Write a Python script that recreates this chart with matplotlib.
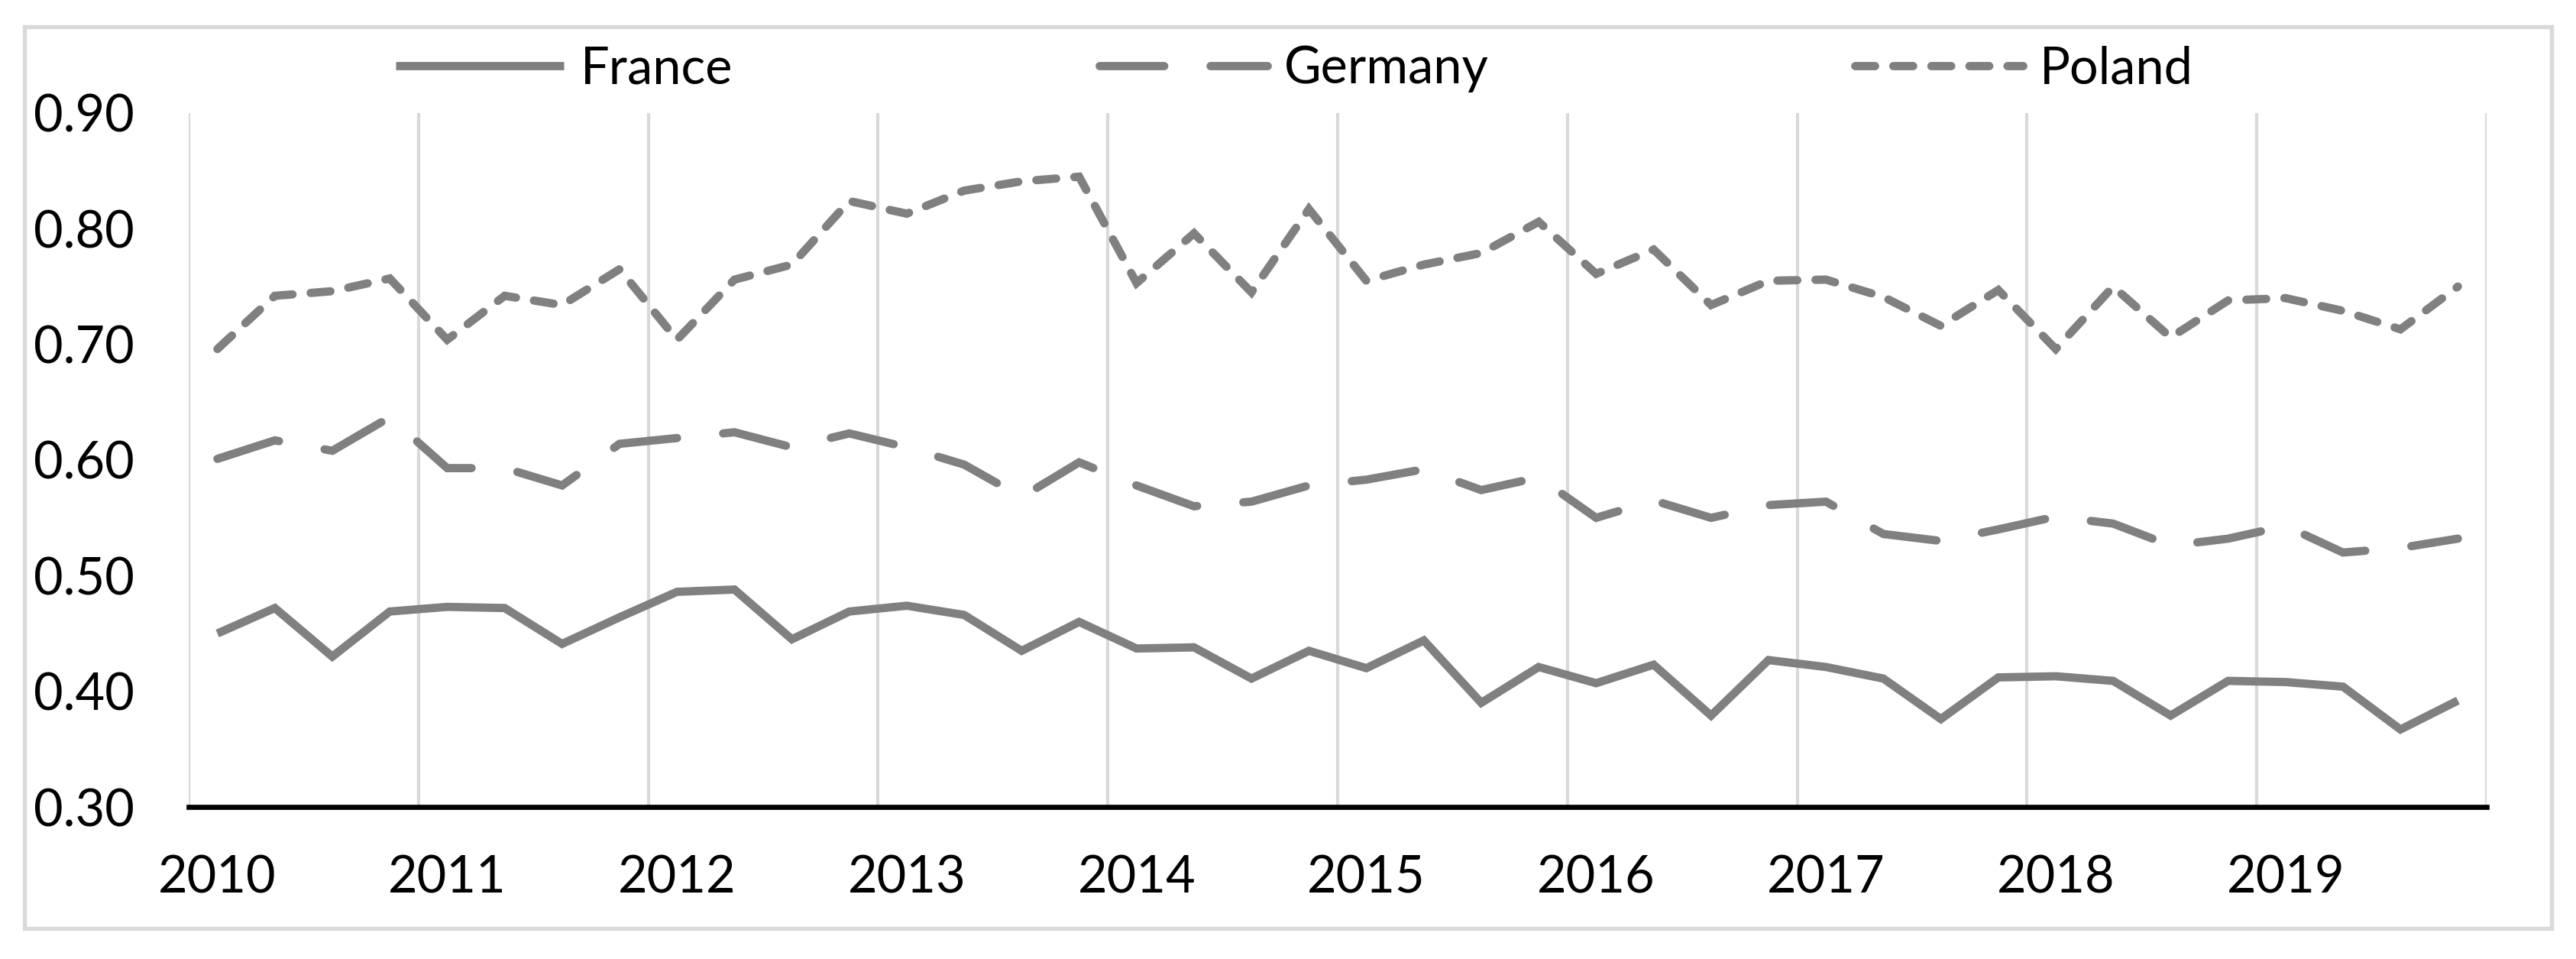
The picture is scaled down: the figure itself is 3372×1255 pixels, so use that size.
import matplotlib
matplotlib.use("Agg")
import matplotlib.pyplot as plt
from matplotlib.patches import Rectangle
import numpy as np

plt.rcParams['font.family'] = ['Lato', 'DejaVu Sans']

years = [str(y) for y in range(2010, 2020)]
quarters_per_year = 4

france = [0.450, 0.472, 0.430, 0.469, 0.473, 0.472, 0.441, 0.464, 0.486, 0.488, 0.445, 0.469, 0.474,
          0.466, 0.435, 0.460, 0.437, 0.438, 0.411, 0.435, 0.420, 0.444, 0.390, 0.421, 0.407, 0.423, 0.379,
          0.427, 0.421, 0.411, 0.376, 0.412, 0.413, 0.409, 0.379, 0.409, 0.408, 0.404, 0.367, 0.392]
germany = [0.601, 0.617, 0.608, 0.637, 0.593, 0.593, 0.578, 0.614, 0.619, 0.624, 0.611, 0.623, 0.611,
           0.596, 0.568, 0.598, 0.578, 0.560, 0.564, 0.578, 0.583, 0.592, 0.574, 0.585, 0.550, 0.565, 0.550,
           0.561, 0.564, 0.536, 0.530, 0.540, 0.551, 0.545, 0.526, 0.532, 0.543, 0.520, 0.524, 0.532]
poland = [0.696, 0.742, 0.746, 0.757, 0.704, 0.742, 0.734, 0.765, 0.704, 0.756, 0.769, 0.824, 0.813,
          0.833, 0.841, 0.845, 0.753, 0.796, 0.745, 0.817, 0.755, 0.769, 0.779, 0.806, 0.761, 0.782, 0.734,
          0.755, 0.756, 0.741, 0.716, 0.747, 0.696, 0.750, 0.706, 0.738, 0.740, 0.729, 0.713, 0.750]
series_names = ['France', 'Germany', 'Poland']

W, H, DPI = 3372, 1255, 300
fig = plt.figure(figsize=(W / DPI, H / DPI), dpi=DPI)
ax = fig.add_axes([247 / W, 1 - 1056 / H, (3255 - 247) / W, (1056 - 148) / H])

# outer chart border
fig.patches.append(Rectangle((32 / W, 1 - 1215 / H), (3340 - 32) / W, (1215 - 35) / H,
                             transform=fig.transFigure, fill=False, edgecolor='#d9d9d9',
                             linewidth=1.3, zorder=0))

x = np.arange(len(france))
color = '#808080'
lw = 2.6
ax.plot(x, france, color=color, lw=lw, linestyle='-', solid_joinstyle='miter',
        solid_capstyle='butt', label=series_names[0], zorder=3)
ax.plot(x, germany, color=color, lw=lw, linestyle=(0, (7.8, 5.6)), dash_capstyle='round',
        dash_joinstyle='miter', label=series_names[1], zorder=3)
ax.plot(x, poland, color=color, lw=lw, linestyle=(0, (2.4, 2.2)), dash_capstyle='round',
        dash_joinstyle='miter', label=series_names[2], zorder=3)

n = len(france)
ax.set_xlim(-0.5, n - 0.5)
ax.set_ylim(0.30, 0.90)

# vertical gridlines at year boundaries
for k in range(0, n + 1, quarters_per_year):
    ax.axvline(k - 0.5, color='#d9d9d9', lw=1.0, zorder=1)

ax.set_xticks(np.arange(0, n, quarters_per_year))
ax.set_xticklabels(years)
ax.set_yticks(np.arange(0.30, 0.901, 0.10))
ax.set_yticklabels([f"{v:.2f}" for v in np.arange(0.30, 0.901, 0.10)])
ax.tick_params(axis='both', length=0, labelsize=16, colors='black')
ax.tick_params(axis='x', pad=15)
ax.tick_params(axis='y', pad=17)

for s in ['top', 'right', 'left']:
    ax.spines[s].set_visible(False)
ax.spines['bottom'].set_color('black')
ax.spines['bottom'].set_linewidth(1.6)
ax.spines['bottom'].set_zorder(4)

fig.legend(loc='center', bbox_to_anchor=(0.5025, 1 - 90 / H), ncol=3, frameon=False,
           fontsize=16, handlelength=3.3, handletextpad=0.32, columnspacing=7.2)

fig.savefig('out.png', dpi=DPI, facecolor='white')
